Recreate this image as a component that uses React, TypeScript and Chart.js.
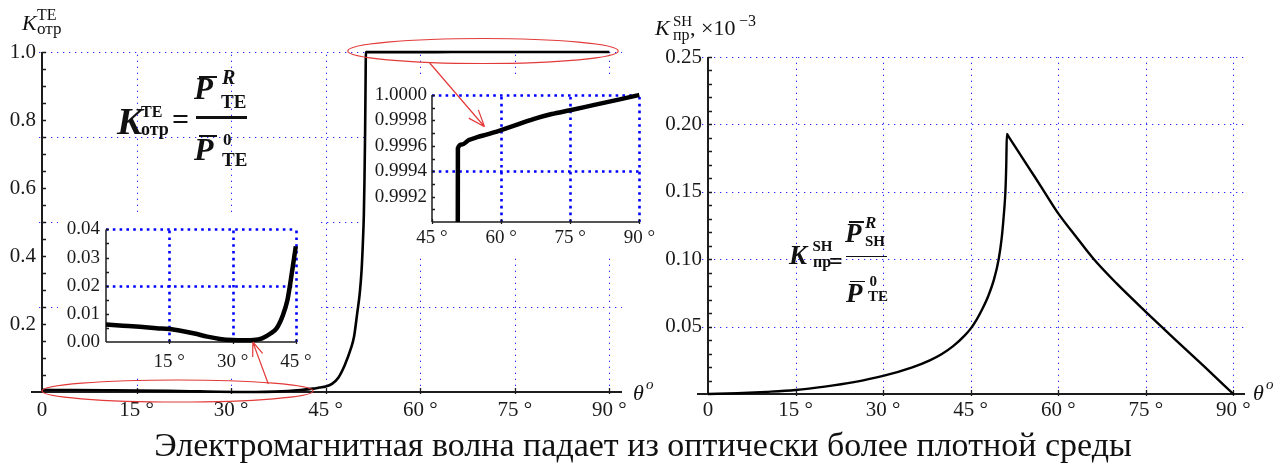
import React, { useEffect, useRef } from 'react';
import { Chart, registerables } from 'chart.js';

Chart.register(...registerables);

const SERIF = "'Liberation Serif', 'Times New Roman', serif";

// K_отр^TE versus angle of incidence (main left plot)
const TE_ANGLE = [0, 5, 10, 15, 20, 25, 28, 31, 34, 37, 39, 41, 43, 44, 45, 46, 47, 48, 49, 49.5, 50, 50.4, 50.7, 50.9, 51.05, 51.15, 51.25, 51.32, 51.38, 55, 60, 65, 70, 75, 80, 85, 90];
const TE_VALUE = [0.0062, 0.0058, 0.0052, 0.0045, 0.0034, 0.0018, 0.0008, 0.0002, 0.0001, 0.0012, 0.003, 0.006, 0.01, 0.013, 0.016, 0.024, 0.042, 0.078, 0.128, 0.163, 0.232, 0.29, 0.36, 0.44, 0.52, 0.62, 0.76, 0.9, 0.99958, 0.99967, 0.99972, 0.99978, 0.99984, 0.99988, 0.99992, 0.99996, 1.0];

// Detail of K_отр^TE below 45°
const LOW_ANGLE = [0, 4, 8, 12, 15, 18, 21, 24, 27, 30, 33, 35, 37, 39, 40.5, 42, 43, 43.6, 44.2, 44.7, 45];
const LOW_VALUE = [0.0062, 0.0058, 0.0054, 0.0049, 0.0046, 0.0039, 0.003, 0.0019, 0.0011, 0.0007, 0.0006, 0.0007, 0.0013, 0.003, 0.005, 0.0098, 0.0148, 0.02, 0.026, 0.031, 0.034];

// Detail of K_отр^TE above the critical angle
const HIGH_ANGLE = [50.58, 50.62, 51.5, 53, 55, 57, 60, 63, 67, 71, 75, 80, 85, 90];
const HIGH_VALUE = [0.9985, 0.99958, 0.99961, 0.999645, 0.99967, 0.99969, 0.999724, 0.99976, 0.99981, 0.99985, 0.99988, 0.99992, 0.99996, 1.0];

// K_пр^SH, ×10^-3
const SH_ANGLE = [0, 5, 10, 15, 20, 25, 30, 35, 38, 40, 42, 44, 45, 46, 47, 48, 49, 49.8, 50.3, 50.7, 50.95, 51.1, 51.2, 51.5, 54, 56, 58, 60, 63, 66, 70, 75, 80, 85, 90];
const SH_VALUE = [0, 0.0006, 0.0016, 0.003, 0.0055, 0.0088, 0.0134, 0.0198, 0.025, 0.0295, 0.0355, 0.0435, 0.0485, 0.055, 0.063, 0.0725, 0.085, 0.1, 0.115, 0.134, 0.15, 0.17, 0.193, 0.191, 0.1742, 0.161, 0.1474, 0.134, 0.117, 0.1005, 0.082, 0.061, 0.0405, 0.0205, 0];

// Tick labels
const DEG_LABELS = [0, 15, 30, 45, 60, 75, 90];
const TE_Y_LABELS = [0.2, 0.4, 0.6, 0.8, 1.0];
const SH_Y_LABELS = [0.05, 0.1, 0.15, 0.2, 0.25];
const LOW_X_LABELS = [15, 30, 45];
const LOW_Y_LABELS = [0, 0.01, 0.02, 0.03, 0.04];
const HIGH_X_LABELS = [45, 60, 75, 90];
const HIGH_Y_LABELS = [0.9992, 0.9994, 0.9996, 0.9998, 1.0];

// Grid lines
const DEG_GRID = [15, 30, 45, 60, 75, 90];
const TE_GRID_Y = [0.25, 0.5, 0.75, 1.0];
const SH_GRID_Y = [0.05, 0.1, 0.15, 0.2, 0.25];
const LOW_GRID_X = [15, 30, 45];
const LOW_GRID_Y = [0.02, 0.04];
const HIGH_GRID_X = [60, 75, 90];
const HIGH_GRID_Y = [0.9994, 1.0];

// Minor tick marks on the vertical axes
const TE_MINOR = Array.from({ length: 20 }, (_, i) => (i + 1) * 0.05);
const SH_MINOR = Array.from({ length: 25 }, (_, i) => (i + 1) * 0.01);
const LOW_MINOR = Array.from({ length: 8 }, (_, i) => (i + 1) * 0.005);
const HIGH_MINOR = Array.from({ length: 10 }, (_, i) => 0.999 + (i + 1) * 0.0001);

// Zoom markers: circled angle spans on the main plot and arrow anchors [angle, value]
const TOP_SPAN = [48.5, 91.4];
const LOW_SPAN = [0, 43];
const TOP_ARROW_FROM = [61.5, 1.0];
const TOP_ARROW_TO = [56.4, 0.99975];
const LOW_ARROW_FROM = [35.9, 0.0];
const LOW_ARROW_TO = [34.8, 0.0];

// Canvas placements
const LEFT_BOX = { left: 0, top: 0, width: 640, height: 420 };
const RIGHT_BOX = { left: 640, top: 0, width: 646, height: 420 };
const LOW_BOX = { left: 58, top: 212, width: 262, height: 165 };
const HIGH_BOX = { left: 368, top: 78, width: 292, height: 177 };

const THIN_GRID = { color: 'rgba(40,40,255,1)', width: 1, dash: [1.3, 4.7] };
const BOLD_GRID = { color: '#0000ff', width: 2.6, dash: [2.6, 4.2] };

interface FrameOpts {
  gridX: number[];
  gridY: number[];
  grid: { color: string; width: number; dash: number[] };
  gridLead: number;
  axisWidth: number;
  axisLead: number;
  minorY: number[];
  tickLen: number;
  tickX: number[];
}

function framePlugin(f: FrameOpts) {
  return {
    id: 'frame',
    beforeDatasetsDraw(chart: any) {
      const { ctx, chartArea: a } = chart;
      const xs = chart.scales.x;
      const ys = chart.scales.y;
      const x0 = Math.round(xs.getPixelForValue(xs.min));
      const yTop = ys.getPixelForValue(ys.max);
      const yBot = Math.round(ys.getPixelForValue(ys.min));
      ctx.save();
      ctx.strokeStyle = f.grid.color;
      ctx.lineWidth = f.grid.width;
      ctx.setLineDash(f.grid.dash);
      for (const v of f.gridX) {
        const px = Math.round(xs.getPixelForValue(v)) + 0.5;
        ctx.beginPath();
        ctx.moveTo(px, yBot);
        ctx.lineTo(px, yTop);
        ctx.stroke();
      }
      for (const v of f.gridY) {
        const py = Math.round(ys.getPixelForValue(v)) + 0.5;
        ctx.beginPath();
        ctx.moveTo(x0 - f.gridLead, py);
        ctx.lineTo(a.right, py);
        ctx.stroke();
      }
      ctx.setLineDash([]);
      ctx.strokeStyle = '#1c1c1c';
      ctx.lineWidth = f.axisWidth;
      ctx.beginPath();
      ctx.moveTo(x0, yTop);
      ctx.lineTo(x0, yBot);
      ctx.moveTo(x0 - f.axisLead, yBot);
      ctx.lineTo(a.right, yBot);
      ctx.stroke();
      ctx.lineWidth = 1.3;
      ctx.beginPath();
      for (const v of f.minorY) {
        const py = Math.round(ys.getPixelForValue(v)) + 0.5;
        ctx.moveTo(x0, py);
        ctx.lineTo(x0 + f.tickLen, py);
      }
      for (const v of f.tickX) {
        const px = Math.round(xs.getPixelForValue(v)) + 0.5;
        ctx.moveTo(px, yBot - f.tickLen);
        ctx.lineTo(px, yBot + 2);
      }
      ctx.stroke();
      ctx.restore();
    },
  };
}

interface PlotSpec {
  angle: number[];
  value: number[];
  lineWidth: number;
  x: [number, number];
  y: [number, number];
  xLabels: number[];
  xFmt: (v: number) => string;
  yLabels: number[];
  yFmt: (v: number) => string;
  padTop: number;
  padRight: number;
  yWidth: number;
  xHeight: number;
  fontSize: number;
  xPad: number;
  yPad: number;
  clip: any;
  frame: FrameOpts;
}

function makePlot(canvas: HTMLCanvasElement, p: PlotSpec) {
  const font = { family: SERIF, size: p.fontSize };
  return new Chart(canvas, {
    type: 'line',
    data: {
      datasets: [
        {
          data: p.angle.map((a, i) => ({ x: a, y: p.value[i] })),
          borderColor: '#000',
          borderWidth: p.lineWidth,
          pointRadius: 0,
          fill: false,
          cubicInterpolationMode: 'monotone',
          borderJoinStyle: 'round',
          clip: p.clip,
        },
      ],
    },
    options: {
      responsive: false,
      animation: false,
      devicePixelRatio: 1,
      events: [],
      layout: { padding: { left: 0, top: p.padTop, right: p.padRight, bottom: 0 } },
      plugins: { legend: { display: false }, tooltip: { enabled: false } },
      scales: {
        x: {
          type: 'linear',
          min: p.x[0],
          max: p.x[1],
          grid: { display: false, drawTicks: false },
          border: { display: false },
          afterBuildTicks: (s: any) => {
            s.ticks = p.xLabels.map((v) => ({ value: v }));
          },
          afterFit: (s: any) => {
            s.height = p.xHeight;
          },
          ticks: {
            autoSkip: false,
            maxRotation: 0,
            font,
            color: '#1a1a1a',
            padding: p.xPad,
            callback: (v: any) => p.xFmt(Number(v)),
          },
        },
        y: {
          type: 'linear',
          min: p.y[0],
          max: p.y[1],
          grid: { display: false, drawTicks: false },
          border: { display: false },
          afterBuildTicks: (s: any) => {
            s.ticks = p.yLabels.map((v) => ({ value: v }));
          },
          afterFit: (s: any) => {
            s.width = p.yWidth;
          },
          ticks: {
            autoSkip: false,
            font,
            color: '#1a1a1a',
            padding: p.yPad,
            callback: (v: any) => p.yFmt(Number(v)),
          },
        },
      },
    } as any,
    plugins: [framePlugin(p.frame)],
  });
}

const degFmt = (v: number) => (v === 0 ? '0' : `${v} °`);

function arrow(ctx: CanvasRenderingContext2D, x1: number, y1: number, x2: number, y2: number, head: number) {
  const a = Math.atan2(y2 - y1, x2 - x1);
  ctx.beginPath();
  ctx.moveTo(x1, y1);
  ctx.lineTo(x2, y2);
  for (const s of [-1, 1]) {
    ctx.moveTo(x2, y2);
    ctx.lineTo(x2 - head * Math.cos(a + s * 0.36), y2 - head * Math.sin(a + s * 0.36));
  }
  ctx.stroke();
}

function Txt(props: { x: number; b: number; size: number; it?: boolean; bold?: boolean; children: React.ReactNode }) {
  const { x, b, size, it, bold, children } = props;
  return (
    <span
      style={{
        position: 'absolute',
        left: x,
        top: b - 0.8375 * size,
        fontSize: size,
        lineHeight: `${size}px`,
        fontFamily: SERIF,
        fontStyle: it ? 'italic' : 'normal',
        fontWeight: bold ? 700 : 400,
        whiteSpace: 'nowrap',
        color: '#111',
      }}
    >
      {children}
    </span>
  );
}

function Bar(props: { x: number; y: number; w: number; h: number }) {
  return (
    <div
      style={{ position: 'absolute', left: props.x, top: props.y, width: props.w, height: props.h, background: '#111' }}
    />
  );
}

const canvasStyle = (b: { left: number; top: number; width: number; height: number }, bg?: string) => ({
  position: 'absolute' as const,
  left: b.left,
  top: b.top,
  width: b.width,
  height: b.height,
  background: bg,
});

export default function App() {
  const leftRef = useRef<HTMLCanvasElement>(null);
  const rightRef = useRef<HTMLCanvasElement>(null);
  const lowRef = useRef<HTMLCanvasElement>(null);
  const highRef = useRef<HTMLCanvasElement>(null);
  const overlayRef = useRef<HTMLCanvasElement>(null);

  useEffect(() => {
    const left = makePlot(leftRef.current!, {
      angle: TE_ANGLE,
      value: TE_VALUE,
      lineWidth: 2.6,
      x: [0, 92],
      y: [0, 1],
      xLabels: DEG_LABELS,
      xFmt: degFmt,
      yLabels: TE_Y_LABELS,
      yFmt: (v) => v.toFixed(1),
      padTop: 52,
      padRight: 18,
      yWidth: 42,
      xHeight: 28,
      fontSize: 21,
      xPad: 6,
      yPad: 6,
      clip: 4,
      frame: {
        gridX: DEG_GRID,
        gridY: TE_GRID_Y,
        grid: THIN_GRID,
        gridLead: 3,
        axisWidth: 2,
        axisLead: 11,
        minorY: TE_MINOR,
        tickLen: 4,
        tickX: DEG_GRID,
      },
    });

    const right = makePlot(rightRef.current!, {
      angle: SH_ANGLE,
      value: SH_VALUE,
      lineWidth: 2.4,
      x: [0, 92],
      y: [0, 0.25],
      xLabels: DEG_LABELS,
      xFmt: degFmt,
      yLabels: SH_Y_LABELS,
      yFmt: (v) => v.toFixed(2),
      padTop: 57,
      padRight: 41,
      yWidth: 68,
      xHeight: 26,
      fontSize: 21,
      xPad: 3.5,
      yPad: 6,
      clip: 4,
      frame: {
        gridX: DEG_GRID,
        gridY: SH_GRID_Y,
        grid: THIN_GRID,
        gridLead: 6,
        axisWidth: 2,
        axisLead: 11,
        minorY: SH_MINOR,
        tickLen: 4,
        tickX: DEG_GRID,
      },
    });

    const low = makePlot(lowRef.current!, {
      angle: LOW_ANGLE,
      value: LOW_VALUE,
      lineWidth: 4.5,
      x: [0, 45],
      y: [0, 0.04],
      xLabels: LOW_X_LABELS,
      xFmt: degFmt,
      yLabels: LOW_Y_LABELS,
      yFmt: (v) => v.toFixed(2),
      padTop: 13,
      padRight: 18,
      yWidth: 48,
      xHeight: 35,
      fontSize: 19,
      xPad: 8.5,
      yPad: 6,
      clip: 4,
      frame: {
        gridX: LOW_GRID_X,
        gridY: LOW_GRID_Y,
        grid: BOLD_GRID,
        gridLead: 0,
        axisWidth: 1.5,
        axisLead: 0,
        minorY: LOW_MINOR,
        tickLen: 3,
        tickX: LOW_X_LABELS,
      },
    });

    const high = makePlot(highRef.current!, {
      angle: HIGH_ANGLE,
      value: HIGH_VALUE,
      lineWidth: 4.5,
      x: [45, 90],
      y: [0.999, 1.0],
      xLabels: HIGH_X_LABELS,
      xFmt: degFmt,
      yLabels: HIGH_Y_LABELS,
      yFmt: (v) => v.toFixed(4),
      padTop: 17,
      padRight: 16,
      yWidth: 64,
      xHeight: 33,
      fontSize: 19,
      xPad: 5,
      yPad: 5,
      clip: { left: 4, top: 4, right: 4, bottom: 0 },
      frame: {
        gridX: HIGH_GRID_X,
        gridY: HIGH_GRID_Y,
        grid: BOLD_GRID,
        gridLead: 0,
        axisWidth: 1.5,
        axisLead: 0,
        minorY: HIGH_MINOR,
        tickLen: 3,
        tickX: HIGH_X_LABELS,
      },
    });

    // Red zoom markers linking the main plot with its two detail plots
    const ctx = overlayRef.current!.getContext('2d')!;
    ctx.clearRect(0, 0, 1286, 465);
    ctx.strokeStyle = '#e33a3a';
    ctx.lineWidth = 1.2;
    const lx = (v: number) => LEFT_BOX.left + left.scales.x.getPixelForValue(v);
    const ly = (v: number) => LEFT_BOX.top + left.scales.y.getPixelForValue(v);
    const ellipse = (span: number[], yv: number, dy: number, ry: number) => {
      const x1 = lx(span[0]);
      const x2 = lx(span[1]);
      ctx.beginPath();
      ctx.ellipse((x1 + x2) / 2, ly(yv) + dy, (x2 - x1) / 2, ry, 0, 0, Math.PI * 2);
      ctx.stroke();
    };
    ellipse(TOP_SPAN, 1.0, -1, 12.5);
    ellipse(LOW_SPAN, 0.0, -1, 11);
    arrow(
      ctx,
      lx(TOP_ARROW_FROM[0]),
      ly(TOP_ARROW_FROM[1]) + 11,
      HIGH_BOX.left + high.scales.x.getPixelForValue(TOP_ARROW_TO[0]),
      HIGH_BOX.top + high.scales.y.getPixelForValue(TOP_ARROW_TO[1]),
      18
    );
    arrow(
      ctx,
      lx(LOW_ARROW_FROM[0]),
      ly(LOW_ARROW_FROM[1]) - 8,
      LOW_BOX.left + low.scales.x.getPixelForValue(LOW_ARROW_TO[0]),
      LOW_BOX.top + low.scales.y.getPixelForValue(LOW_ARROW_TO[1]),
      15
    );

    return () => {
      left.destroy();
      right.destroy();
      low.destroy();
      high.destroy();
    };
  }, []);

  return (
    <div
      style={{
        position: 'absolute',
        left: 0,
        top: 0,
        width: 1286,
        height: 465,
        overflow: 'hidden',
        background: '#fff',
        fontFamily: SERIF,
      }}
    >
      <canvas ref={leftRef} width={LEFT_BOX.width} height={LEFT_BOX.height} style={canvasStyle(LEFT_BOX)} />
      <canvas ref={rightRef} width={RIGHT_BOX.width} height={RIGHT_BOX.height} style={canvasStyle(RIGHT_BOX)} />
      <canvas ref={lowRef} width={LOW_BOX.width} height={LOW_BOX.height} style={canvasStyle(LOW_BOX, '#fff')} />
      <canvas ref={highRef} width={HIGH_BOX.width} height={HIGH_BOX.height} style={canvasStyle(HIGH_BOX, '#fff')} />

      {/* axis titles */}
      <Txt x={22} b={30} size={22} it>K</Txt>
      <Txt x={37} b={20} size={16}>TE</Txt>
      <Txt x={37} b={34} size={17}>отр</Txt>

      <Txt x={655} b={35} size={22} it>K</Txt>
      <Txt x={673} b={27} size={15}>SH</Txt>
      <Txt x={673} b={40} size={16}>пр</Txt>
      <Txt x={690} b={35} size={22}>, ×10</Txt>
      <Txt x={739} b={26} size={16}>−3</Txt>

      <Txt x={633} b={400} size={22} it>θ</Txt>
      <Txt x={646} b={390} size={15} it>o</Txt>
      <Txt x={1253} b={400} size={22} it>θ</Txt>
      <Txt x={1266} b={390} size={15} it>o</Txt>

      {/* K_отр^TE = P_TE^R / P_TE^0 */}
      <Txt x={117} b={134} size={38} it bold>K</Txt>
      <Txt x={141} b={117} size={16} bold>TE</Txt>
      <Txt x={141} b={135.5} size={18} bold>отр</Txt>
      <Txt x={172} b={129.5} size={30} bold>=</Txt>
      <Bar x={196} y={116} w={51} h={2.5} />
      <Txt x={194} b={99.3} size={31} it bold>P</Txt>
      <Bar x={199} y={75.5} w={18} h={2} />
      <Txt x={222} b={83.3} size={20} it bold>R</Txt>
      <Txt x={221} b={108} size={19} bold>TE</Txt>
      <Txt x={194} b={160} size={32} it bold>P</Txt>
      <Bar x={199} y={134.5} w={18} h={2} />
      <Txt x={223} b={145} size={17} bold>0</Txt>
      <Txt x={222} b={166} size={19} bold>TE</Txt>

      {/* K_пр^SH = P_SH^R / P_TE^0 */}
      <Txt x={789} b={265} size={27} it bold>K</Txt>
      <Txt x={812.5} b={252} size={15} bold>SH</Txt>
      <Txt x={813} b={267} size={16} bold>пр</Txt>
      <Txt x={829} b={269} size={24} bold>=</Txt>
      <Bar x={846} y={255.5} w={41} h={1.8} />
      <Txt x={845} b={243} size={27} it bold>P</Txt>
      <Bar x={849} y={221} w={15} h={1.8} />
      <Txt x={865} b={228} size={17} it bold>R</Txt>
      <Txt x={865} b={247} size={15} bold>SH</Txt>
      <Txt x={846} b={303} size={27} it bold>P</Txt>
      <Bar x={850} y={280.5} w={15} h={1.8} />
      <Txt x={869.5} b={286.7} size={15} bold>0</Txt>
      <Txt x={868} b={301.7} size={15} bold>TE</Txt>

      <canvas
        ref={overlayRef}
        width={1286}
        height={465}
        style={{ position: 'absolute', left: 0, top: 0, width: 1286, height: 465, pointerEvents: 'none' }}
      />

      <div
        style={{
          position: 'absolute',
          left: 0,
          width: 1286,
          top: 456 - 0.8375 * 34,
          fontSize: 34,
          lineHeight: '34px',
          textAlign: 'center',
          fontFamily: SERIF,
          color: '#111',
          whiteSpace: 'nowrap',
        }}
      >
        Электромагнитная волна падает из оптически более плотной среды
      </div>
    </div>
  );
}
